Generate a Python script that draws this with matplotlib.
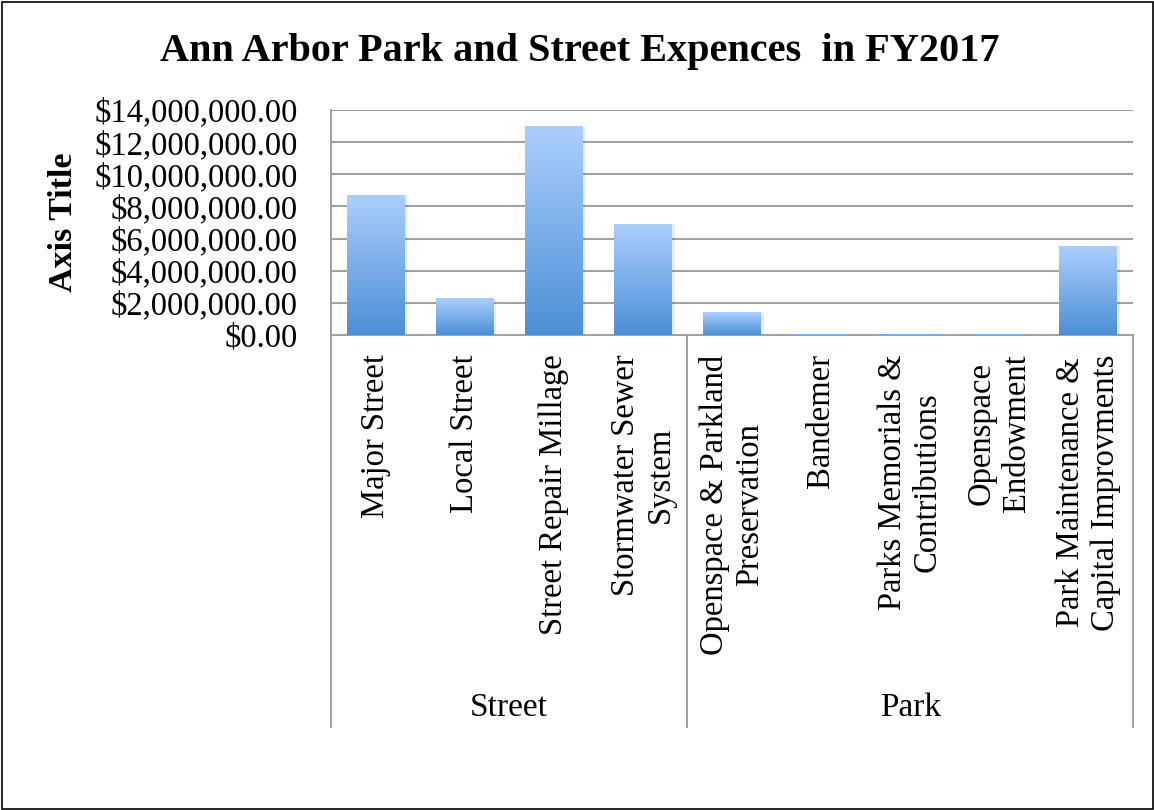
import numpy as np
import matplotlib
matplotlib.use("Agg")
import matplotlib.pyplot as plt
from matplotlib.patches import Rectangle
from matplotlib.lines import Line2D
from matplotlib.ticker import FuncFormatter

categories = ["Major Street", "Local Street", "Street Repair Millage", "Stormwater Sewer\nSystem",
              "Openspace & Parkland\nPreservation", "Bandemer", "Parks Memorials &\nContributions",
              "Openspace\nEndowment", "Park Maintenance &\nCapital Improvments"]
groups = ["Street", "Park"]
group_sizes = [4, 5]
values = [8700000, 2250000, 12950000, 6900000, 1380000, 30000, 20000, 20000, 5530000]
yticks = [0, 2000000, 4000000, 6000000, 8000000, 10000000, 12000000, 14000000]

W, H = 1154, 810
fig = plt.figure(figsize=(W / 100, H / 100), dpi=100)
fig.patch.set_facecolor("white")
fig.add_artist(Rectangle((1.5 / W, 1.5 / H), (W - 3) / W, (H - 3) / H, transform=fig.transFigure,
                         fill=False, edgecolor="black", linewidth=1.2))

L, R, T, B = 331, 1133, 110, 335
ax = fig.add_axes([L / W, 1 - B / H, (R - L) / W, (B - T) / H])
serif = "Liberation Serif"
grid_c = "#a0a0a0"

n = len(categories)
x = np.arange(n)
bw = 0.65

top_c = np.array([0xab, 0xcf, 0xfd]) / 255
bot_c = np.array([0x4b, 0x8f, 0xd6]) / 255
grad = np.linspace(0, 1, 256)[:, None]
img = (top_c[None, None, :] * (1 - grad[:, :, None]) + bot_c[None, None, :] * grad[:, :, None])
img = np.repeat(img, 2, axis=1)

for xi, v in zip(x, values):
    ax.add_patch(Rectangle((xi - bw / 2 + 0.03, 0), bw, v,
                           facecolor="#000000", alpha=0.08, edgecolor="none", zorder=2))
    ax.imshow(img, extent=[xi - bw / 2, xi + bw / 2, 0, v], aspect="auto", zorder=3,
              interpolation="bilinear")
ax.set_xlim(-0.5, n - 0.5)
ax.set_ylim(0, 14000000)

ax.set_yticks(yticks)
ax.yaxis.set_major_formatter(FuncFormatter(lambda v, p: "${:,.2f}".format(v)))
ax.grid(axis="y", color=grid_c, linewidth=1.4, zorder=0)
ax.set_axisbelow(True)
for s in ["top", "right"]:
    ax.spines[s].set_visible(False)
ax.spines["left"].set_color(grid_c)
ax.spines["left"].set_linewidth(1.4)
ax.spines["bottom"].set_color(grid_c)
ax.spines["bottom"].set_linewidth(1.4)
ax.tick_params(axis="y", length=0, pad=24, labelsize=23.5)
for lab in ax.get_yticklabels():
    lab.set_fontfamily(serif)

ax.set_xticks(x)
ax.set_xticklabels(categories, rotation=90, fontsize=23.5, fontfamily=serif, multialignment="center",
                   va="top", ha="center")
ax.tick_params(axis="x", length=0, pad=14)

# category separator lines
ylow = (B - 727) / (B - T)
tr = ax.get_xaxis_transform()
bounds = [-0.5]
for gs in group_sizes:
    bounds.append(bounds[-1] + gs)
for bx in bounds:
    ax.add_line(Line2D([bx, bx], [0, ylow], transform=tr, color=grid_c, linewidth=1.4, clip_on=False))

ygrp = (B - 708) / (B - T)
for g, a, b in zip(groups, bounds[:-1], bounds[1:]):
    ax.text((a + b) / 2, ygrp, g, transform=tr, ha="center", va="center", fontsize=24, fontfamily=serif)

fig.text(63 / W, 1 - 222 / H, "Axis Title", rotation=90, ha="center", va="center",
         fontsize=24.5, fontweight="bold", fontfamily=serif)

fig.text(580 / W, 1 - 51 / H, "Ann Arbor Park and Street Expences  in FY2017", ha="center", va="center",
         fontsize=29, fontweight="bold", fontfamily=serif)

fig.savefig("out.png", dpi=100, facecolor="white")
